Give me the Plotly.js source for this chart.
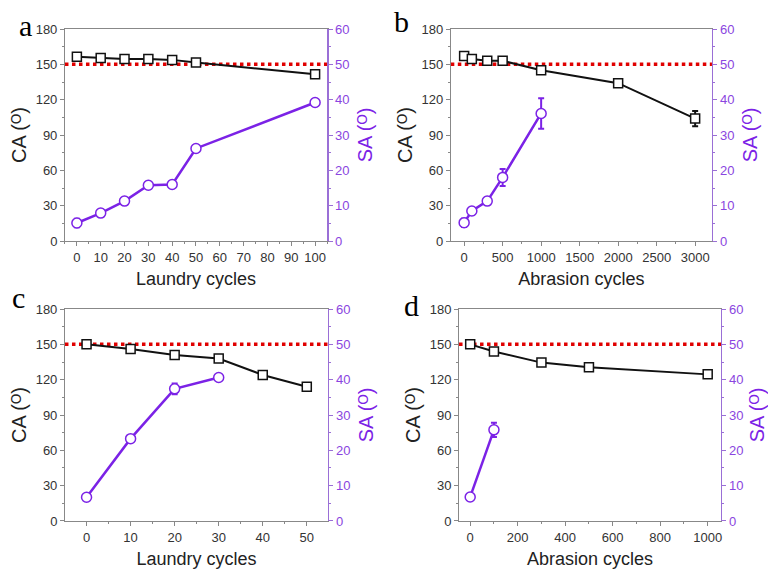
<!DOCTYPE html>
<html>
<head>
<meta charset="utf-8">
<script src="https://cdn.plot.ly/plotly-3.0.1.min.js"></script>
<style>html,body{margin:0;padding:0;background:#fff;}#chart{width:768px;height:569px;}</style>
</head>
<body>
<div id="chart"></div>
<script>
// Panel a: laundry cycles (sample 1)
const aCycles = [0, 10, 20, 30, 40, 50, 100];
const aCA = [156.5, 155.3, 154.5, 154.5, 153.8, 151.6, 141.5];
const aCAerr = [2.5, 2, 1.5, 1.5, 2, 2.5, 2.5];
const aSA = [5.1, 7.9, 11.3, 15.8, 16.0, 26.2, 39.2];
const aSAerr = [1.2, 1, 1, 1, 0.6, 0.8, 0.8];

// Panel b: abrasion cycles (sample 1)
const bCyclesCA = [0, 100, 300, 500, 1000, 2000, 3000];
const bCA = [157, 154.5, 153, 153, 145, 134, 104];
const bCAerr = [2.5, 2.5, 2.5, 2.5, 2.5, 2.5, 6.5];
const bCyclesSA = [0, 100, 300, 500, 1000];
const bSA = [5.2, 8.5, 11.3, 18.0, 36.1];
const bSAerr = [1.2, 1, 1, 2.4, 4.3];

// Panel c: laundry cycles (sample 2)
const cCyclesCA = [0, 10, 20, 30, 40, 50];
const cCA = [150, 146, 141, 138, 124, 114];
const cCAerr = [2.5, 2, 2.5, 2.5, 2.5, 1.5];
const cCyclesSA = [0, 10, 20, 30];
const cSA = [6.7, 23.3, 37.4, 40.6];
const cSAerr = [0.8, 0.8, 1.5, 0.8];

// Panel d: abrasion cycles (sample 2)
const dCyclesCA = [0, 100, 300, 500, 1000];
const dCA = [150, 144, 134.5, 130.5, 124.5];
const dCAerr = [2, 2.5, 2.5, 2.5, 2.5];
const dCyclesSA = [0, 100];
const dSA = [6.8, 25.8];
const dSAerr = [0.8, 2];

const threshold = 150;
const panelLetters = ['a', 'b', 'c', 'd'];
const xTitles = ['Laundry cycles', 'Abrasion cycles', 'Laundry cycles', 'Abrasion cycles'];
const caTitle = 'CA (\u1D3C)';
const saTitle = 'SA (\u1D3C)';

const BLACK = '#111111';
const PURPLE = '#7b22e6';
const PURPLE_AX = '#9a6fd6';
const PURPLE_TXT = '#8a45e0';
const GRAY = '#888888';
const TICKTXT = '#333333';
const FONT = 'Liberation Sans, Arial, DejaVu Sans, sans-serif';

function caTrace(x, y, err, n) {
  return {
    x: x, y: y, type: 'scatter', mode: 'lines+markers',
    xaxis: 'x' + (n === 1 ? '' : n), yaxis: 'y' + (n === 1 ? '' : (2*n-1)),
    line: {color: BLACK, width: 2},
    marker: {symbol: 'square', size: 9, color: '#ffffff', line: {color: BLACK, width: 1.5}},
    error_y: {type: 'data', array: err, visible: true, color: BLACK, thickness: 2, width: 3},
    showlegend: false, cliponaxis: false
  };
}
function saTrace(x, y, err, n) {
  return {
    x: x, y: y, type: 'scatter', mode: 'lines+markers',
    xaxis: 'x' + (n === 1 ? '' : n), yaxis: 'y' + (2*n),
    line: {color: PURPLE, width: 2.5},
    marker: {symbol: 'circle', size: 10, color: '#ffffff', line: {color: PURPLE, width: 1.5}},
    error_y: {type: 'data', array: err, visible: true, color: PURPLE, thickness: 2, width: 3},
    showlegend: false, cliponaxis: false
  };
}

const data = [
  caTrace(aCycles, aCA, aCAerr, 1), saTrace(aCycles, aSA, aSAerr, 1),
  caTrace(bCyclesCA, bCA, bCAerr, 2), saTrace(bCyclesSA, bSA, bSAerr, 2),
  caTrace(cCyclesCA, cCA, cCAerr, 3), saTrace(cCyclesSA, cSA, cSAerr, 3),
  caTrace(dCyclesCA, dCA, dCAerr, 4), saTrace(dCyclesSA, dSA, dSAerr, 4)
];

const xDomains = [[0.0846, 0.4258], [0.587, 0.927], [0.0846, 0.427], [0.5977, 0.9388]];
const yDomains = [[0.5764, 0.949], [0.5764, 0.949], [0.0844, 0.4569], [0.0844, 0.4569]];
const xRanges = [[-5, 105], [-173, 3218], [-4.9, 54.8], [-47, 1056]];
const xDticks = [10, 500, 10, 200];

const tickFont = {family: FONT, size: 13, color: TICKTXT};
const layout = {
  width: 768, height: 569,
  margin: {l: 0, r: 0, t: 0, b: 0},
  paper_bgcolor: '#ffffff', plot_bgcolor: '#ffffff',
  showlegend: false,
  shapes: [], annotations: []
};

for (let i = 0; i < 4; i++) {
  const n = i + 1;
  const xk = 'xaxis' + (n === 1 ? '' : n);
  const yl = 'yaxis' + (n === 1 ? '' : (2*n-1));
  const yr = 'yaxis' + (2*n);
  const xid = 'x' + (n === 1 ? '' : n);
  const ylid = 'y' + (n === 1 ? '' : (2*n-1));
  layout[xk] = {
    domain: xDomains[i], range: xRanges[i], anchor: ylid,
    showgrid: false, zeroline: false, showline: true, linecolor: GRAY, linewidth: 1, mirror: true,
    ticks: 'outside', ticklen: 4, tickcolor: GRAY, dtick: xDticks[i], tick0: 0,
    minor: {ticks: 'outside', ticklen: 2, dtick: xDticks[i]/2, tickcolor: GRAY},
    tickfont: tickFont,
    title: {text: xTitles[i], font: {family: FONT, size: 18, color: '#222'}, standoff: 8}
  };
  layout[yl] = {
    domain: yDomains[i], range: [0, 180], anchor: xid,
    showgrid: false, zeroline: false, showline: true, linecolor: GRAY, linewidth: 1,
    ticks: 'outside', ticklen: 4, tickcolor: GRAY, dtick: 30, tick0: 0,
    minor: {ticks: 'outside', ticklen: 2, dtick: 15, tickcolor: GRAY},
    tickfont: tickFont,
    title: {text: caTitle, font: {family: FONT, size: 20, color: '#222'}, standoff: 3}
  };
  layout[yr] = {
    domain: yDomains[i], range: [0, 60], anchor: xid, overlaying: ylid, side: 'right',
    showgrid: false, zeroline: false, showline: true, linecolor: PURPLE_AX, linewidth: 1.5,
    ticks: 'outside', ticklen: 4, tickcolor: PURPLE_AX, dtick: 10, tick0: 0,
    minor: {ticks: 'outside', ticklen: 2, dtick: 5, tickcolor: PURPLE_AX},
    tickfont: {family: FONT, size: 13, color: PURPLE_TXT},
    title: {text: saTitle, font: {family: FONT, size: 20, color: PURPLE}, standoff: 9}
  };
  layout.shapes.push({
    type: 'line', xref: xid + ' domain', yref: ylid, x0: 0, x1: 1, y0: threshold, y1: threshold,
    line: {color: '#e00000', width: 3.5, dash: 'dot'}, layer: 'below'
  });
}

const letterPos = [[25, 25], [401, 22], [18, 297], [411, 305]];
for (let i = 0; i < 4; i++) {
  layout.annotations.push({
    text: panelLetters[i], xref: 'paper', yref: 'paper',
    x: letterPos[i][0] / 768, y: 1 - letterPos[i][1] / 569,
    xanchor: 'center', yanchor: 'middle', showarrow: false,
    font: {family: 'Liberation Serif, Times New Roman, serif', size: 30, color: '#000'}
  });
}

Plotly.newPlot('chart', data, layout, {displayModeBar: false, staticPlot: true});
</script>
</body>
</html>
